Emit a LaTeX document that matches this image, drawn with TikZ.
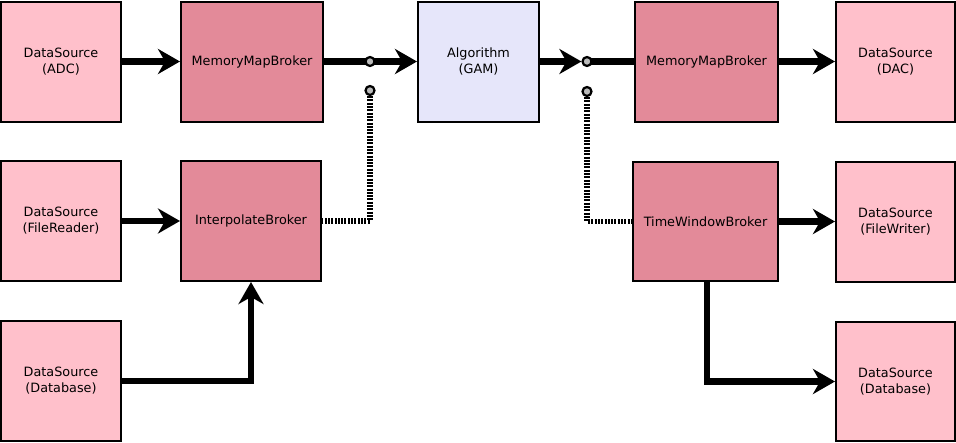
\documentclass[tikz,border=0pt]{standalone}
\usepackage{fontspec}
\setmainfont{DejaVu Sans}
\usetikzlibrary{arrows.meta}
\pgfdeclarelayer{bg}
\pgfsetlayers{bg,main}
\definecolor{dspink}{HTML}{FFC0CB}
\definecolor{brokerc}{HTML}{E38A99}
\definecolor{algc}{HTML}{E6E6FA}
\definecolor{swgrey}{HTML}{BBBBBB}
\begin{document}
\begin{tikzpicture}[x=1pt,y=-1pt,
  box/.style={draw=black,line width=2pt,align=center,inner sep=0pt,
    font=\fontsize{12.8}{16}\selectfont},
  dsbox/.style={box,fill=dspink,minimum width=120pt,minimum height=120pt},
  brbox/.style={box,fill=brokerc,minimum height=120pt},
  algbox/.style={box,fill=algc,minimum width=121pt,minimum height=120pt},
  conn/.style={line width=6.3pt,draw=black},
  arr/.style={conn,-{Stealth[length=22pt,width=25pt,inset=7pt]}},
  dots/.style={line width=5.5pt,draw=black,dash pattern=on 2pt off 1.3pt},
  sw/.style={circle,draw=black,fill=swgrey,line width=2.2pt,minimum size=9pt,inner sep=0pt}
]
\useasboundingbox (0,0) rectangle (956,442);
% top row
\node[dsbox] (ds1) at (61,61.5) {DataSource\\(ADC)};
\node[brbox,minimum width=142pt] (mmb1) at (252,61.5) {MemoryMapBroker};
\node[algbox] (alg) at (478.5,61.5) {Algorithm\\(GAM)};
\node[brbox,minimum width=143pt] (mmb2) at (706.5,61.5) {MemoryMapBroker};
\node[dsbox,minimum width=119pt] (dac) at (895.5,61.5) {DataSource\\(DAC)};
% middle row
\node[dsbox] (fr) at (61,221) {DataSource\\(FileReader)};
\node[brbox,minimum width=140pt] (ib) at (251,221) {InterpolateBroker};
\node[brbox,minimum width=145pt,minimum height=119pt] (twb) at (705.5,221.5) {TimeWindowBroker};
\node[dsbox,minimum width=119pt] (fw) at (895.5,221.5) {DataSource\\(FileWriter)};
% bottom row
\node[dsbox] (db1) at (61,381) {DataSource\\(Database)};
\node[dsbox,minimum width=119pt,minimum height=119pt] (db2) at (895.5,381.5) {DataSource\\(Database)};
% switches
\node[sw] (s1) at (370,61.5) {};
\node[sw] (s2) at (370,90.5) {};
\node[sw] (s3) at (587,61.5) {};
\node[sw] (s4) at (587,91.5) {};
\begin{pgfonlayer}{bg}
\draw[arr] (ds1.east) -- (mmb1.west);
\draw[arr] (mmb1.east) -- (s1.center) -- (alg.west);
\draw[arr] (alg.east) -- (s3.west);
\draw[conn] (s3.center) -- (mmb2.west);
\draw[arr] (mmb2.east) -- (dac.west);
\draw[arr] (fr.east) -- (ib.west);
\draw[arr] (twb.east) -- (fw.west);
\draw[arr] (db1.east) -| (ib.south);
\draw[arr] ([xshift=1.5pt]twb.south) |- (db2.west);
\draw[dots] (s2.south) |- (ib.east);
\draw[dots] (s4.south) |- (twb.west);
\end{pgfonlayer}
\end{tikzpicture}
\end{document}
